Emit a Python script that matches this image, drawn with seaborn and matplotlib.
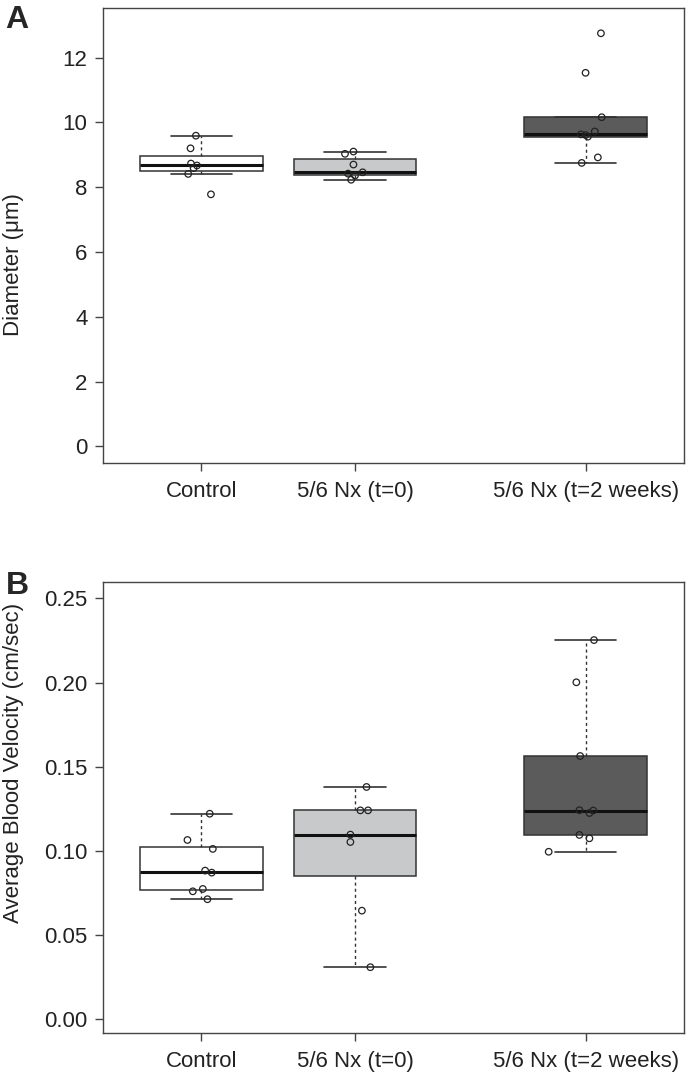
import numpy as np
import pandas as pd
import seaborn as sns
import matplotlib.pyplot as plt

groups = ["Control", "5/6 Nx (t=0)", "5/6 Nx (t=2 weeks)"]
group_pos = [1, 2, 3.5]
box_colors = ["#ffffff", "#c8c9cb", "#5b5b5b"]

# panel A: vessel diameter (um), one list per group
diam_control = [9.59, 9.20, 8.73, 8.67, 8.59, 8.41, 7.78]
diam_t0 = [9.10, 9.03, 8.70, 8.46, 8.42, 8.36, 8.23]
diam_t2 = [12.75, 11.53, 10.16, 9.72, 9.63, 9.61, 9.56, 8.92, 8.75]
# horizontal jitter of each point
jit_diam_control = [-0.035, -0.07, -0.067, -0.028, -0.05, -0.085, 0.063]
jit_diam_t0 = [-0.01, -0.065, -0.01, 0.05, -0.045, 0.0, -0.025]
jit_diam_t2 = [0.10, 0.0, 0.105, 0.06, -0.03, 0.0, 0.015, 0.08, -0.025]

# panel B: average blood velocity (cm/sec)
vel_control = [0.1221, 0.1065, 0.1012, 0.0883, 0.0871, 0.0774, 0.0760, 0.0713]
vel_t0 = [0.1380, 0.1241, 0.1241, 0.1097, 0.1053, 0.0645, 0.0309]
vel_t2 = [0.2253, 0.2002, 0.1564, 0.1242, 0.1240, 0.1225, 0.1095, 0.1075, 0.0995]
jit_vel_control = [0.055, -0.09, 0.075, 0.025, 0.068, 0.01, -0.055, 0.04]
jit_vel_t0 = [0.075, 0.035, 0.085, -0.03, -0.03, 0.045, 0.10]
jit_vel_t2 = [0.055, -0.06, -0.035, -0.04, 0.05, 0.025, -0.04, 0.025, -0.24]


def make_df(vals, jits):
    rows = []
    for g, p, v, j in zip(groups, group_pos, vals, jits):
        for vi, ji in zip(v, j):
            rows.append({"group": g, "pos": p, "value": vi, "xj": p + ji})
    return pd.DataFrame(rows)


df_a = make_df([diam_control, diam_t0, diam_t2],
               [jit_diam_control, jit_diam_t0, jit_diam_t2])
df_b = make_df([vel_control, vel_t0, vel_t2],
               [jit_vel_control, jit_vel_t0, jit_vel_t2])

sns.set_style("ticks")
plt.rcParams["font.family"] = ["Liberation Sans", "DejaVu Sans"]

fig = plt.figure(figsize=(6.86, 10.81), dpi=100)
ax_a = fig.add_axes([0.150, 0.5714, 0.847, 0.4209])
ax_b = fig.add_axes([0.150, 0.0444, 0.847, 0.4169])


def draw_panel(ax, df, ylabel, ylim, yticks, fmt, label_y):
    sns.boxplot(data=df, x="pos", y="value", hue="group",
                palette=dict(zip(groups, box_colors)), saturation=1,
                native_scale=True, width=0.8, dodge=False, showfliers=False,
                linecolor="#333333", linewidth=1.1,
                medianprops=dict(color="#111111", linewidth=2.2),
                whiskerprops=dict(linestyle=(0, (2.2, 2.2)), linewidth=1.0),
                capprops=dict(linewidth=1.2),
                legend=False, ax=ax)
    sns.scatterplot(data=df, x="xj", y="value", marker="o", s=22,
                    facecolors="none", edgecolor="#222222", linewidth=0.9,
                    legend=False, zorder=5, ax=ax)
    ax.set_xlim(0.36, 4.14)
    ax.set_ylim(*ylim)
    ax.set_xticks(group_pos, groups)
    ax.set_yticks(yticks, [fmt.format(t) for t in yticks])
    ax.set_xlabel("")
    ax.set_ylabel(ylabel, fontsize=16, color="#222222")
    ax.yaxis.set_label_coords(-0.135, label_y)
    ax.tick_params(axis="both", length=6, width=1, color="#444444",
                   labelsize=16, labelcolor="#222222")
    ax.tick_params(axis="y", pad=5)
    ax.tick_params(axis="x", pad=7)
    for sp in ax.spines.values():
        sp.set_visible(True)
        sp.set_color("#444444")
        sp.set_linewidth(1.0)


draw_panel(ax_a, df_a, "Diameter (\u03bcm)", (-0.52, 13.52),
           [0, 2, 4, 6, 8, 10, 12], "{:g}", 0.436)
draw_panel(ax_b, df_b, "Average Blood Velocity (cm/sec)", (-0.0082, 0.2596),
           [0.0, 0.05, 0.10, 0.15, 0.20, 0.25], "{:.2f}", 0.599)

fig.text(0.008, 0.995, "A", fontsize=23, fontweight="bold", ha="left", va="top")
fig.text(0.008, 0.472, "B", fontsize=23, fontweight="bold", ha="left", va="top")

fig.savefig("out.png", dpi=100)
